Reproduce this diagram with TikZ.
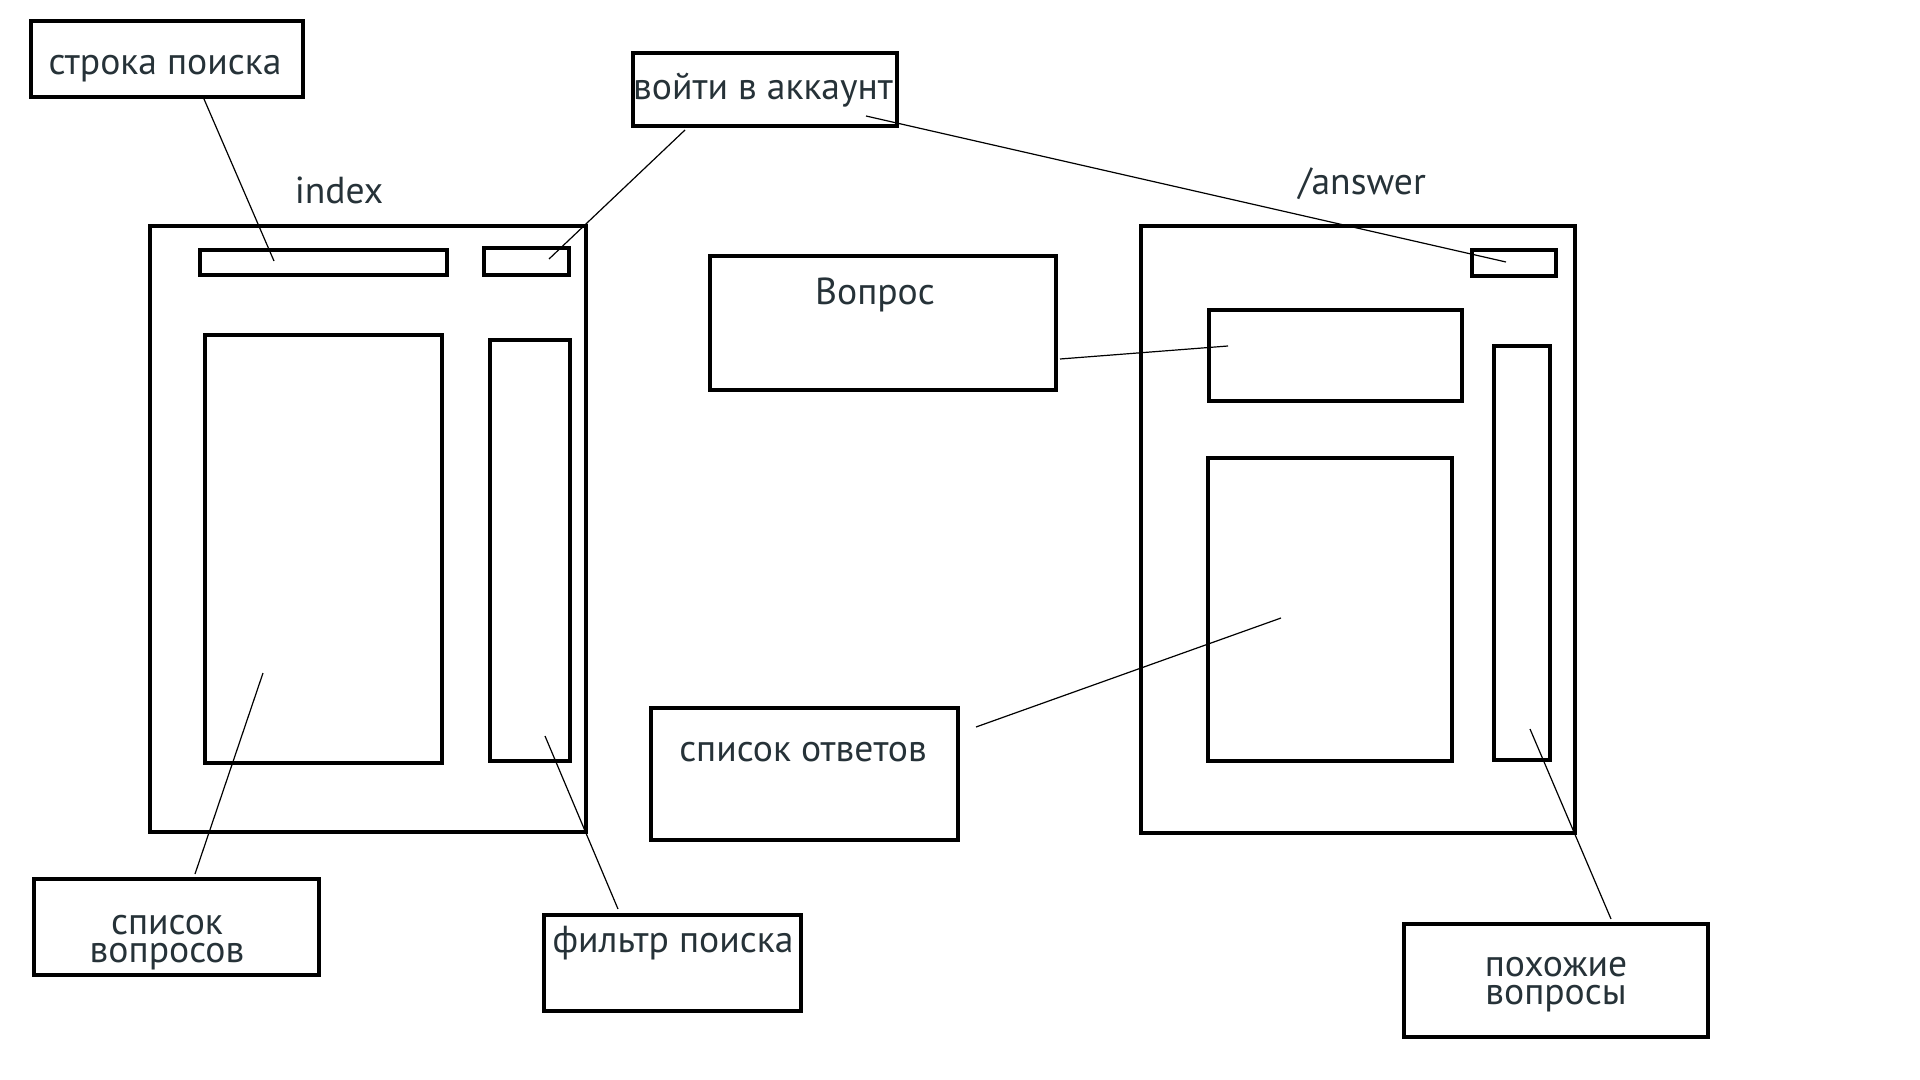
\documentclass[tikz,border=0pt]{standalone}
\usepackage{fontspec}
\setmainfont{PT Sans}
\definecolor{txt}{RGB}{38,50,56}
\begin{document}
\begin{tikzpicture}[x=0.5pt,y=-0.5pt,
  frame/.style={draw=black,line width=2.25pt,fill=none},
  lbl/.style={text=txt,font=\fontsize{18.8pt}{14pt}\selectfont,anchor=base,inner sep=0pt,align=center},
  lead/.style={draw=black,line width=0.6pt}]
\useasboundingbox[fill=white] (0,0) rectangle (1920,1080);
% label boxes
\draw[frame] (31,21) rectangle (303,97) coordinate (lblsearch);
\draw[frame] (633,53) rectangle (897,126) coordinate (lbllogin);
\draw[frame] (710,256) rectangle (1056,390) coordinate (qbox);
\draw[frame] (651,708) rectangle (958,840) coordinate (lblanswers);
\draw[frame] (34,879) rectangle (319,975) coordinate (lblqlist);
\draw[frame] (544,915) rectangle (801,1011) coordinate (lblfilter);
\draw[frame] (1404,924) rectangle (1708,1037) coordinate (lblsimilar);
% index page
\draw[frame] (150,226) rectangle (586,832) coordinate (idxouter);
\draw[frame] (200,250) rectangle (447,275) coordinate (idxsearch);
\draw[frame] (484,248) rectangle (569,275) coordinate (idxlogin);
\draw[frame] (205,335) rectangle (442,763) coordinate (idxlist);
\draw[frame] (490,340) rectangle (570,761) coordinate (idxfilter);
% answer page
\draw[frame] (1141,226) rectangle (1575,833) coordinate (ansouter);
\draw[frame] (1472,250) rectangle (1556,276) coordinate (anslogin);
\draw[frame] (1209,310) rectangle (1462,401) coordinate (ansq);
\draw[frame] (1494,346) rectangle (1550,760) coordinate (anssim);
\draw[frame] (1208,458) rectangle (1452,761) coordinate (anslist);
% texts
\node[lbl] (tsearch) at (165,75) {строка поиска};
\node[lbl] (tlogin) at (763,100) {войти в аккаунт};
\node[lbl] (tindex) at (339,204) {index};
\node[lbl] (tanswer) at (1362,195) {/answer};
\node[lbl] (tq) at (875,305) {Вопрос};
\node[lbl] (tanswers) at (803,761) {список ответов};
\node[lbl] (tqlist) at (167,962) {список\\вопросов};
\node[lbl] (tfilter) at (673,952) {фильтр поиска};
\node[lbl] (tsim) at (1556,1004) {похожие\\вопросы};
% connector end points
\coordinate (a1) at (204,99);   \coordinate (b1) at (274,261);
\coordinate (a2) at (685,130);  \coordinate (b2) at (549,259);
\coordinate (a3) at (866,116);  \coordinate (b3) at (1506,262);
\coordinate (a4) at (1060,359); \coordinate (b4) at (1228,346);
\coordinate (a5) at (976,727);  \coordinate (b5) at (1281,618);
\coordinate (a6) at (1530,729); \coordinate (b6) at (1611,919);
\coordinate (a7) at (263,673);  \coordinate (b7) at (195,874);
\coordinate (a8) at (545,736);  \coordinate (b8) at (618,909);
\draw[lead] (a1) -- (b1);
\draw[lead] (a2) -- (b2);
\draw[lead] (a3) -- (b3);
\draw[lead] (a4) -- (b4);
\draw[lead] (a5) -- (b5);
\draw[lead] (a6) -- (b6);
\draw[lead] (a7) -- (b7);
\draw[lead] (a8) -- (b8);
\end{tikzpicture}
\end{document}
